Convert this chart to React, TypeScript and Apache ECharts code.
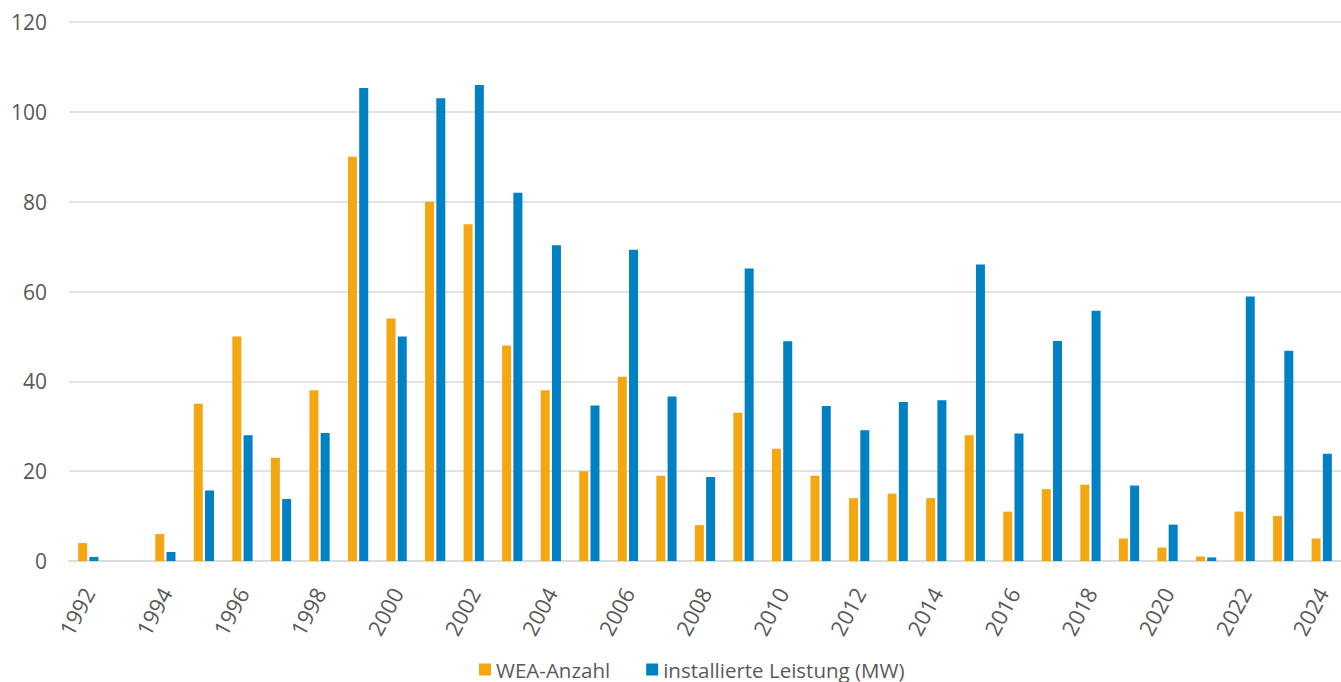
import React, { useEffect, useRef } from "react";
import * as echarts from "echarts";

const years = [
  "1992", "1993", "1994", "1995", "1996", "1997", "1998", "1999", "2000", "2001", "2002",
  "2003", "2004", "2005", "2006", "2007", "2008", "2009", "2010", "2011", "2012", "2013",
  "2014", "2015", "2016", "2017", "2018", "2019", "2020", "2021", "2022", "2023", "2024",
];

const weaAnzahl = [
  4, null, 6, 35, 50, 23, 38, 90, 54, 80, 75,
  48, 38, 20, 41, 19, 8, 33, 25, 19, 14, 15,
  14, 28, 11, 16, 17, 5, 3, 1, 11, 10, 5,
];

const leistungMW = [
  0.9, null, 2, 15.7, 28, 13.8, 28.5, 105.3, 50, 103, 106,
  82, 70.3, 34.6, 69.3, 36.6, 18.7, 65.1, 48.9, 34.5, 29.1, 35.4,
  35.8, 66, 28.4, 49, 55.7, 16.8, 8.1, 0.8, 58.9, 46.8, 23.9,
];

const seriesNames = ["WEA-Anzahl", "installierte Leistung (MW)"];
const FONT = "'Open Sans', 'Noto Sans', sans-serif";

export default function App() {
  const ref = useRef<HTMLDivElement>(null);
  useEffect(() => {
    if (!ref.current) return;
    const chart = echarts.init(ref.current, null, { renderer: "svg" });
    chart.setOption({
      animation: false,
      textStyle: { fontFamily: FONT },
      grid: { left: 69, right: -9, top: 22, bottom: 121, containLabel: false },
      legend: {
        data: seriesNames,
        left: 474,
        top: 654,
        icon: "rect",
        itemWidth: 12,
        itemHeight: 12,
        itemGap: 36,
        textStyle: { fontSize: 20.5, color: "#595959", fontFamily: FONT },
      },
      xAxis: {
        type: "category",
        data: years,
        axisTick: { show: false },
        axisLine: { lineStyle: { color: "#d9d9d9", width: 1.5 } },
        axisLabel: {
          interval: 1,
          rotate: 62,
          fontSize: 22,
          color: "#595959",
          margin: 28,
          fontFamily: FONT,
        },
      },
      yAxis: {
        type: "value",
        min: 0,
        max: 120,
        interval: 20,
        axisLine: { show: false },
        axisTick: { show: false },
        splitLine: { lineStyle: { color: "#d9d9d9", width: 1.5 } },
        axisLabel: { fontSize: 21, color: "#595959", margin: 22, fontFamily: FONT },
      },
      series: [
        {
          name: seriesNames[0],
          type: "bar",
          data: weaAnzahl,
          barWidth: 9,
          barGap: "25%",
          itemStyle: { color: "#F5A711" },
        },
        {
          name: seriesNames[1],
          type: "bar",
          data: leistungMW,
          barWidth: 9,
          barGap: "25%",
          itemStyle: { color: "#0081C4" },
        },
      ],
    });
    return () => chart.dispose();
  }, []);
  return (
    <div
      ref={ref}
      style={{ position: "fixed", left: 0, top: 0, width: 1341, height: 682, background: "#fff" }}
    />
  );
}
